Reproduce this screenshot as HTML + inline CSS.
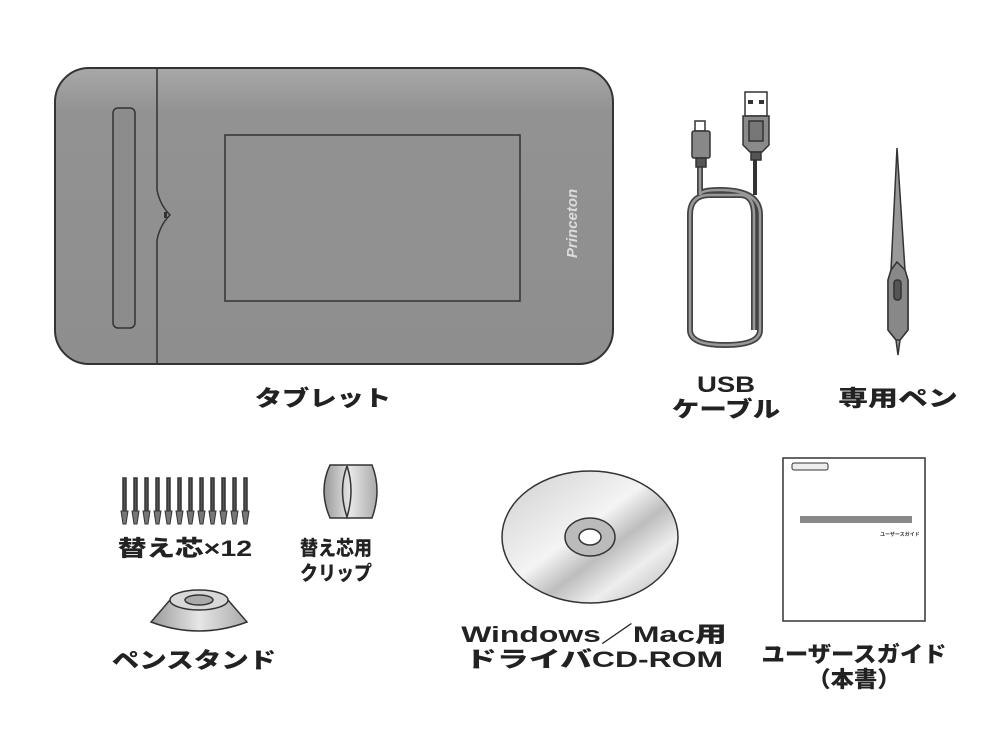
<!DOCTYPE html>
<html><head><meta charset="utf-8"><style>
body{margin:0;background:#fff;width:1000px;height:756px;overflow:hidden;position:relative;font-family:"Liberation Sans","Noto Sans CJK JP",sans-serif}
.t{position:absolute;width:300px;font-weight:900;font-size:22px;color:#222;text-align:center;line-height:25px;white-space:nowrap;transform-origin:center}
svg{position:absolute;left:0;top:0}
</style></head><body>
<svg width="1000" height="756" viewBox="0 0 1000 756">
<defs>
<linearGradient id="tg" x1="0" y1="0" x2="0" y2="1"><stop offset="0" stop-color="#a8a8a8"/><stop offset="0.15" stop-color="#929292"/><stop offset="1" stop-color="#8e8e8e"/></linearGradient>
<linearGradient id="cd" x1="0" y1="0" x2="1" y2="1"><stop offset="0" stop-color="#cfcfcf"/><stop offset="0.45" stop-color="#f4f4f4"/><stop offset="0.6" stop-color="#bdbdbd"/><stop offset="0.75" stop-color="#eeeeee"/><stop offset="1" stop-color="#b0b0b0"/></linearGradient>
<linearGradient id="gr" x1="0" y1="0" x2="1" y2="0"><stop offset="0" stop-color="#999"/><stop offset="0.5" stop-color="#e6e6e6"/><stop offset="1" stop-color="#aaa"/></linearGradient>
</defs>
<rect x="55" y="68" width="558" height="296" rx="34" fill="url(#tg)" stroke="#333" stroke-width="2"/>
<path d="M157 69 V190 Q160 205 170 215 Q160 225 157 240 V363" fill="none" stroke="#333" stroke-width="1.5"/>
<rect x="113" y="108" width="22" height="220" rx="5" fill="#8c8c8c" stroke="#333" stroke-width="1.5"/>
<rect x="164" y="212" width="3" height="6" fill="#333"/>
<rect x="225" y="135" width="295" height="166" fill="#919191" stroke="#333" stroke-width="1.5"/>
<text x="0" y="0" transform="translate(577,258) rotate(-90)" font-family="Liberation Sans" font-weight="bold" font-style="italic" font-size="15" fill="#dcdcdc">Princeton</text>
<g stroke="#333" stroke-width="1.5">
<path d="M700 165 V195 Q700 190 720 190 Q760 190 760 215 V330 Q760 345 725 345 Q690 345 690 330 V215 Q690 195 710 195 H740 Q754 195 754 215 V330" fill="none" stroke="#444" stroke-width="6"/>
<path d="M700 165 V195 Q700 190 720 190 Q760 190 760 215 V330 Q760 345 725 345 Q690 345 690 330 V215 Q690 195 710 195 H740 Q754 195 754 215 V330" fill="none" stroke="#999" stroke-width="2.5"/>
<line x1="755" y1="160" x2="755" y2="195" stroke-width="4"/>
<rect x="695" y="121" width="10" height="10" fill="#fff"/>
<rect x="692" y="131" width="18" height="27" rx="2" fill="#888"/>
<rect x="696" y="158" width="10" height="9" fill="#555"/>
<rect x="745" y="92" width="22" height="24" fill="#fff"/>
<rect x="748" y="100" width="5" height="4" fill="#333" stroke="none"/><rect x="759" y="100" width="5" height="4" fill="#333" stroke="none"/>
<path d="M743 116 H769 V145 L762 152 H750 L743 145 Z" fill="#8a8a8a"/>
<rect x="749" y="121" width="14" height="20" fill="#777"/>
<rect x="751" y="152" width="10" height="8" fill="#555"/>
<path d="M897 148 L905 270 L908 280 L908 330 L900 340 L898 355 L896 340 L888 330 L888 280 L891 270 Z" fill="#999"/>
<path d="M891 270 L897 262 L905 270 L908 280 L908 330 L900 340 L896 340 L888 330 L888 280 Z" fill="#888"/>
<rect x="894" y="280" width="7" height="20" rx="3" fill="#555"/>
<g fill="#555">
<rect x="123" y="478" width="3" height="35"/><rect x="134" y="478" width="3" height="35"/><rect x="145" y="478" width="3" height="35"/><rect x="156" y="478" width="3" height="35"/><rect x="167" y="478" width="3" height="35"/><rect x="178" y="478" width="3" height="35"/><rect x="189" y="478" width="3" height="35"/><rect x="200" y="478" width="3" height="35"/><rect x="211" y="478" width="3" height="35"/><rect x="222" y="478" width="3" height="35"/><rect x="233" y="478" width="3" height="35"/><rect x="244" y="478" width="3" height="35"/>
</g>
<g fill="#777" stroke-width="1">
<path d="M121 511 h7 l-2 13 h-3z"/><path d="M132 511 h7 l-2 13 h-3z"/><path d="M143 511 h7 l-2 13 h-3z"/><path d="M154 511 h7 l-2 13 h-3z"/><path d="M165 511 h7 l-2 13 h-3z"/><path d="M176 511 h7 l-2 13 h-3z"/><path d="M187 511 h7 l-2 13 h-3z"/><path d="M198 511 h7 l-2 13 h-3z"/><path d="M209 511 h7 l-2 13 h-3z"/><path d="M220 511 h7 l-2 13 h-3z"/><path d="M231 511 h7 l-2 13 h-3z"/><path d="M242 511 h7 l-2 13 h-3z"/>
</g>
<path d="M330 465 H372 Q382 490 372 518 H330 Q318 490 330 465 Z" fill="url(#gr)"/>
<path d="M347 466 Q338 490 347 517 Q355 490 347 466" fill="none"/>
<path d="M170 600 Q199 585 228 600 L247 622 Q199 640 151 622 Z" fill="url(#gr)"/>
<ellipse cx="199" cy="600" rx="29" ry="10" fill="#d8d8d8"/>
<ellipse cx="199" cy="600" rx="14" ry="5" fill="#aaa"/>
<ellipse cx="590" cy="537" rx="88" ry="66" fill="url(#cd)"/>
<ellipse cx="590" cy="537" rx="25" ry="19" fill="#bbb"/>
<ellipse cx="590" cy="537" rx="11" ry="8" fill="#fff"/>
<rect x="783" y="458" width="142" height="163" fill="#fff"/>
<rect x="792" y="463" width="36" height="7" rx="2" fill="#eee" stroke-width="1"/>
<rect x="800" y="516" width="112" height="7" fill="#888" stroke="none"/>
</g>
<text x="880" y="536" font-size="5" font-family="Noto Sans CJK JP" font-weight="bold" fill="#333">ユーザースガイド</text>
</svg>
<div class="t" style="left:173px;top:386px;transform:scaleX(1.24)">タブレット</div>
<div class="t" style="left:576px;top:372px;transform:scaleX(1.25)">USB<br>ケーブル</div>
<div class="t" style="left:748px;top:386px;transform:scaleX(1.36)">専用ペン</div>
<div class="t" style="left:35px;top:536px;transform:scaleX(1.3)">替え芯×12</div>
<div class="t" style="left:186px;top:537px;font-size:20px;transform:scaleX(0.9)">替え芯用<br>クリップ</div>
<div class="t" style="left:44px;top:648px;transform:scaleX(1.25)">ペンスタンド</div>
<div class="t" style="left:444px;top:622px;transform:scaleX(1.45)">Windows／Mac用<br>ドライバCD-ROM</div>
<div class="t" style="left:704px;top:642px;transform:scaleX(1.06)">ユーザースガイド<br>（本書）</div>
</body></html>
